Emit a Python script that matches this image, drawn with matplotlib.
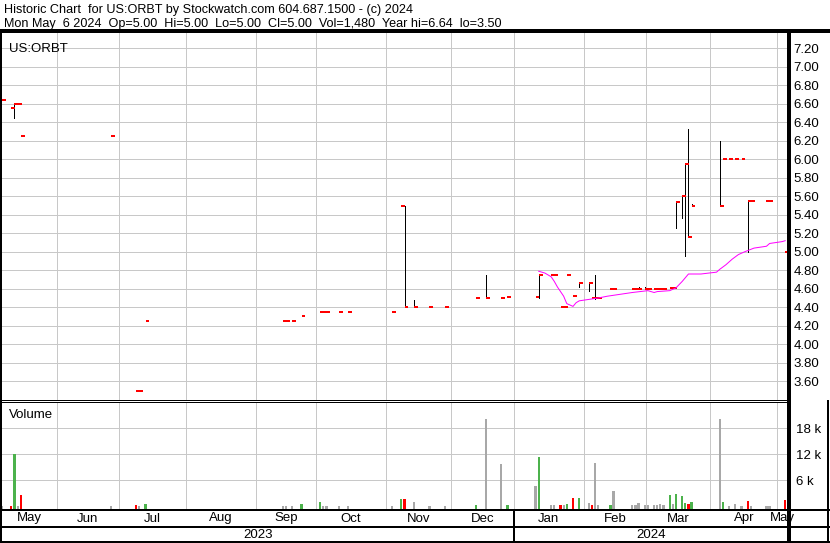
# %%
'''
Stockwatch style historic chart for US:ORBT (price ticks + volume)
'''

import numpy as np
import matplotlib.pyplot as plt
from matplotlib.transforms import blended_transform_factory

plt.rcParams['font.family'] = ['Liberation Sans', 'DejaVu Sans']

# %%
# data, x is the trading day index (0 = first day on the chart)

day = [0, 3, 4, 5, 6, 35, 43, 44, 46, 90, 91, 93, 96, 102, 103, 104, 108, 111, 125,
       128, 129, 132, 137, 142, 152, 155, 160, 162, 171, 172, 176, 177, 179, 180, 181,
       183, 185, 188, 189, 190, 191, 195, 196, 202, 203, 204, 206, 207, 209, 210, 211,
       212, 214, 215, 216, 218, 219, 220, 221, 230, 231, 233, 235, 237, 239, 240, 245,
       246, 251]
close = [6.64, 6.55, 6.60, 6.60, 6.25, 6.25, 3.50, 3.50, 4.25, 4.25, 4.25, 4.25, 4.31, 4.35, 4.35, 4.35, 4.35, 4.35, 4.35,
         5.50, 4.40, 4.40, 4.40, 4.40, 4.50, 4.50, 4.50, 4.51, 4.51, 4.75, 4.75, 4.75, 4.40, 4.40, 4.75,
         4.52, 4.66, 4.66, 4.50, 4.50, 4.50, 4.60, 4.60, 4.60, 4.60, 4.60, 4.60, 4.60, 4.60, 4.60, 4.60,
         4.60, 4.61, 4.61, 5.54, 5.60, 5.95, 5.16, 5.50, 5.50, 6.00, 6.00, 6.00, 6.00, 5.55, 5.55, 5.55,
         5.55, 5.00]
volume = [100, 100, 12000, 100, 2600, 150, 250, 150, 530, 150, 150, 150, 530, 1000, 150, 150, 150, 150, 150,
          1680, 1680, 1070, 150, 150, 200, 20150, 9760, 400, 4760, 11450, 200, 200, 250, 200, 600,
          2000, 2000, 830, 300, 10070, 200, 300, 3530, 300, 300, 830, 300, 300, 400, 400, 500,
          250, 2600, 600, 2800, 2300, 800, 500, 1000, 20150, 1000, 100, 530, 150, 1230, 150, 150,
          150, 1480]

# days with a high-low range
range_day = [4, 129, 132, 155, 172, 185, 188, 190, 204, 206, 216, 218, 219, 220, 221, 230, 239]
range_hi = [6.60, 5.50, 4.48, 4.75, 4.75, 4.66, 4.66, 4.75, 4.62, 4.62, 5.54, 5.60, 5.95, 6.33, 5.52, 6.20, 5.55]
range_lo = [6.45, 4.40, 4.40, 4.50, 4.50, 4.62, 4.58, 4.49, 4.60, 4.60, 5.26, 5.37, 4.96, 5.16, 5.50, 5.50, 5.00]

# moving average (magenta)
ma_day = [172, 174, 176, 177, 178, 180, 181, 183, 184, 185, 187, 191, 194, 198, 202, 207, 209, 210,
          214, 216, 218, 220, 224, 229, 230, 232, 234, 236, 238, 241, 243, 245, 246, 248, 250, 251]
ma_val = [4.79, 4.77, 4.73, 4.68, 4.62, 4.52, 4.44, 4.41, 4.45, 4.47, 4.48, 4.50, 4.52, 4.54, 4.56, 4.58, 4.56, 4.57,
          4.58, 4.61, 4.68, 4.76, 4.76, 4.78, 4.81, 4.86, 4.92, 4.97, 5.00, 5.04, 5.05, 5.06, 5.09, 5.10, 5.11, 5.12]

# month grid lines (day position) and labels
month_edge = [17.5, 37.5, 59, 81.5, 100.5, 123, 144, 164, 186.5, 206.5, 227, 248.5]
month_lbl = ['May', 'Jun', 'Jul', 'Aug', 'Sep', 'Oct', 'Nov', 'Dec', 'Jan', 'Feb', 'Mar', 'Apr', 'May']
year_lbl = ['2023', '2024']

price_ticks = np.arange(3.60, 7.21, 0.20)
vol_ticks = [6000, 12000, 18000]
vol_tick_lbl = ['6 k', '12 k', '18 k']

header1 = 'Historic Chart  for US:ORBT by Stockwatch.com 604.687.1500 - (c) 2024'
header2 = 'Mon May  6 2024  Op=5.00  Hi=5.00  Lo=5.00  Cl=5.00  Vol=1,480  Year hi=6.64  lo=3.50'

# %%
# style

W, H = 830, 543
PX = 0.72  # one pixel in points at dpi 100
fs = 9.5
grid_c = '#C8C8C8'
red = '#FF0000'
green = '#4CB24C'
grey = '#A8A8A8'
magenta = '#FF00FF'
x_min, x_max = 0, 251.9

fig = plt.figure(figsize=(W / 100, H / 100), dpi=100)


def px_axes(x0, y0, x1, y1):
    # box given in pixels from the top left corner
    return fig.add_axes([x0 / W, 1 - y1 / H, (x1 - x0) / W, (y1 - y0) / H])


# %%
# price panel
ax = px_axes(2, 32, 788, 400)
ax.set_xlim(x_min, x_max)
ax.set_ylim(3.398, 7.376)
for s in ax.spines.values():
    s.set_visible(False)
ax.set_xticks([])
ax.yaxis.tick_right()
ax.set_yticks(price_ticks)
ax.set_yticklabels(['%.2f' % p for p in price_ticks], fontsize=fs)
ax.tick_params(axis='y', length=0, pad=4)
for p in price_ticks:
    ax.axhline(p, color=grid_c, lw=PX, zorder=0, antialiased=False)
for m in month_edge:
    ax.axvline(m, color=grid_c, lw=PX, zorder=0, antialiased=False)

d = np.array(day, dtype=float)
ax.vlines(range_day, range_lo, range_hi, color='black', lw=PX, zorder=2, antialiased=False)
ax.hlines(close, d, d + 1.25, color=red, lw=2.0 * PX, zorder=3, antialiased=False)
ax.plot(ma_day, ma_val, color=magenta, lw=PX, zorder=4)
ax.text(0.009, 0.97, 'US:ORBT', transform=ax.transAxes, fontsize=fs, va='top', ha='left')

# %%
# volume panel
vlo, vhi = -620, 24070
av = px_axes(2, 402, 788, 509)
av.set_xlim(x_min, x_max)
av.set_ylim(vlo, vhi)
for s in av.spines.values():
    s.set_visible(False)
av.set_xticks([])
av.yaxis.tick_right()
av.set_yticks(vol_ticks)
av.set_yticklabels(vol_tick_lbl, fontsize=fs)
av.tick_params(axis='y', length=0, pad=6)
for v in vol_ticks:
    av.axhline(v, color=grid_c, lw=PX, zorder=0, antialiased=False)
for m in month_edge:
    av.axvline(m, color=grid_c, lw=PX, zorder=0, antialiased=False)

chg = np.diff(close, prepend=close[0])
vcol = [green if c > 0.001 else red if c < -0.001 else grey for c in chg]
av.bar(day, np.array(volume) - vlo, bottom=vlo, width=0.7, color=vcol, zorder=2, antialiased=False)
av.text(0.009, 0.93, 'Volume', transform=av.transAxes, fontsize=fs, va='top', ha='left')

# %%
# month and year rows
am = px_axes(2, 511, 788, 526)
am.set_xlim(x_min, x_max)
am.axis('off')
edges = [x_min] + month_edge + [x_max]
for i, lbl in enumerate(month_lbl):
    am.text((edges[i] + edges[i + 1]) / 2, 0.5, lbl, fontsize=fs, ha='center', va='center',
            transform=blended_transform_factory(am.transData, am.transAxes))

ay = px_axes(2, 527, 788, 542)
ay.set_xlim(x_min, x_max)
ay.axis('off')
yedge = [x_min, month_edge[7], x_max]
for i, lbl in enumerate(year_lbl):
    ay.text((yedge[i] + yedge[i + 1]) / 2, 0.45, lbl, fontsize=fs, ha='center', va='center',
            transform=blended_transform_factory(ay.transData, ay.transAxes))
ay.axvline(month_edge[7], color='black', lw=1.5 * PX, antialiased=False)
am.axvline(month_edge[7], color='black', lw=1.5 * PX, antialiased=False)

# %%
# frame lines, drawn in pixel space
fr = fig.add_axes([0, 0, 1, 1], zorder=10)
fr.set_xlim(0, W)
fr.set_ylim(H, 0)
fr.axis('off')
fr.patch.set_alpha(0)
k = dict(color='black', solid_capstyle='butt', antialiased=False)
fr.plot([0, W], [30.5, 30.5], lw=2.5 * PX, **k)
fr.plot([1, 1], [30, H], lw=2 * PX, **k)
fr.plot([0, 788], [400, 400], lw=PX, **k)
fr.plot([0, 788], [402, 402], lw=PX, **k)
fr.plot([0, W], [510, 510], lw=2 * PX, **k)
fr.plot([0, W], [526.7, 526.7], lw=1.5 * PX, **k)
fr.plot([0, W], [541.5, 541.5], lw=1.5 * PX, **k)
fr.plot([788.5, 788.5], [30, H], lw=2.5 * PX, **k)
fr.plot([828, 828], [400, H], lw=1.5 * PX, **k)

fig.text(4 / W, 1 - 13.5 / H, header1, fontsize=9.1, ha='left', va='baseline')
fig.text(4 / W, 1 - 27.5 / H, header2, fontsize=9.1, ha='left', va='baseline')

plt.savefig('out.png', dpi=100)
